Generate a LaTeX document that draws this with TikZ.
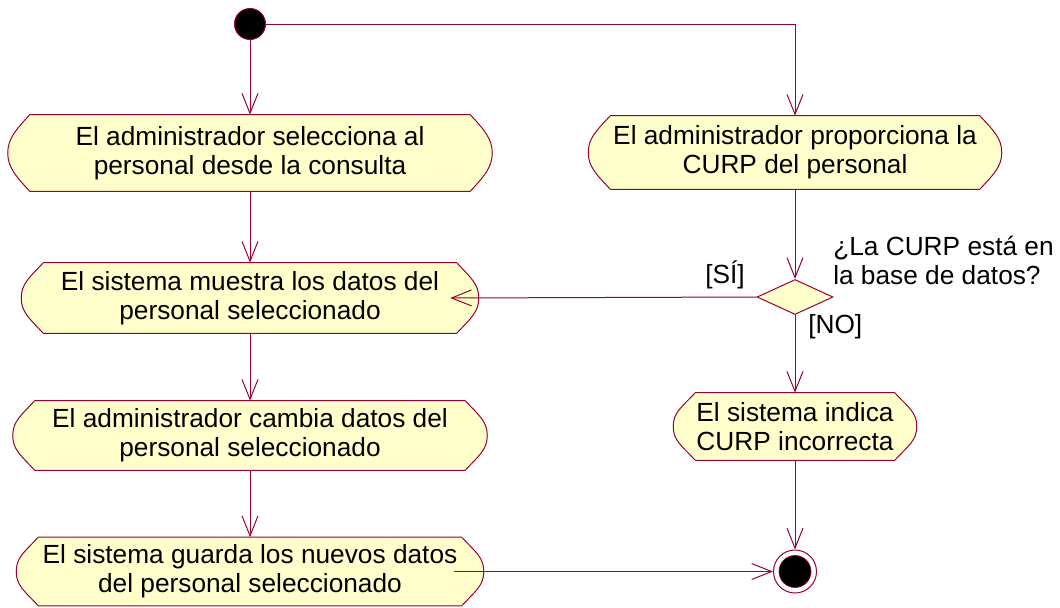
\documentclass[tikz,border=0pt]{standalone}
\usepackage{fontspec}
\setmainfont{Liberation Sans}
\usetikzlibrary{arrows.meta,shapes.geometric,calc,backgrounds}
\definecolor{crim}{HTML}{990033}
\definecolor{actfill}{HTML}{FFFFCC}
\tikzset{
  lbl/.style={font=\fontsize{19.7}{21.5}\selectfont, inner sep=0pt},
  actbox/.style={lbl, align=center, draw=none, rectangle},
  flow/.style={draw=crim, line width=0.75pt, -{Straight Barb[length=15pt,width=12pt]}},
  actborder/.style={draw=crim, line width=0.75pt, fill=actfill},
  startnode/.style={circle, draw=crim, line width=0.75pt, fill=black, minimum size=23.25pt, inner sep=0pt},
  endouter/.style={circle, draw=crim, line width=0.75pt, fill=white, minimum size=32.25pt, inner sep=0pt},
  endinner/.style={circle, draw=crim, line width=0.5pt, fill=black, minimum size=24pt, inner sep=0pt},
  decision/.style={diamond, draw=crim, line width=0.75pt, fill=actfill, minimum width=57pt, minimum height=26.25pt, inner sep=0pt}
}
\newcommand\actoutline[1]{%
  \draw[actborder]
    ($(#1.north west)+(22,0)$) -- ($(#1.north east)+(-22,0)$)
    .. controls ($(#1.north east)+(-8,15)$) and ($(#1.east)+(0,-14)$) .. (#1.east)
    .. controls ($(#1.east)+(0,14)$) and ($(#1.south east)+(-8,-15)$) ..
    ($(#1.south east)+(-22,0)$) -- ($(#1.south west)+(22,0)$)
    .. controls ($(#1.south west)+(8,-15)$) and ($(#1.west)+(0,14)$) .. (#1.west)
    .. controls ($(#1.west)+(0,-14)$) and ($(#1.north west)+(8,15)$) ..
    cycle;}
\begin{document}
\begin{tikzpicture}[x=0.75pt,y=-0.75pt]
\useasboundingbox (0,0) rectangle (1060,607);
% activity nodes
\node[actbox, minimum width=363pt, minimum height=57pt] (b1) at (250,153) {El administrador selecciona al\\personal desde la consulta};
\node[actbox, minimum width=309.75pt, minimum height=54.75pt] (b2) at (795,152.5) {El administrador proporciona la\\CURP del personal};
\node[actbox, minimum width=342.75pt, minimum height=52.5pt] (b3) at (250,298) {El sistema muestra los datos del\\personal seleccionado};
\node[actbox, minimum width=355.5pt, minimum height=51.75pt] (b4) at (250,435.5) {El administrador cambia datos del\\personal seleccionado};
\node[actbox, minimum width=350.25pt, minimum height=51pt] (b5) at (250,571.5) {El sistema guarda los nuevos datos\\del personal seleccionado};
\node[actbox, minimum width=182.25pt, minimum height=50.25pt] (b6) at (795,426.5) {El sistema indica\\CURP incorrecta};
\begin{scope}[on background layer]
  \actoutline{b1}\actoutline{b2}\actoutline{b3}\actoutline{b4}\actoutline{b5}\actoutline{b6}
\end{scope}
% start, decision, end
\node[startnode] (start) at (250,24) {};
\node[decision] (dec) at (795,297) {};
\node[endouter] (endo) at (795,571.5) {};
\node[endinner] (endi) at (endo) {};
% labels
\node[lbl, anchor=north west, align=left] (q) at (833,236) {¿La CURP está en\\la base de datos?};
\node[lbl, anchor=base west] (si) at (705,283) {[SÍ]};
\node[lbl, anchor=base west] (no) at (808,333) {[NO]};
% connectors
\draw[flow] (start) -- (b1);
\draw[flow] (start.east) -| (b2.north);
\draw[flow] (b1) -- (b3);
\draw[flow] (b2) -- (dec);
\draw[flow] (dec.west) -- ([xshift=-21.4pt]b3.east);
\draw[flow] (dec.south) -- (b6.north);
\draw[flow] (b3) -- (b4);
\draw[flow] (b4) -- (b5);
\draw[flow] (b6) -- (endo);
\draw[flow] ([xshift=-22pt]b5.east) -- (endo.west);
\end{tikzpicture}
\end{document}
